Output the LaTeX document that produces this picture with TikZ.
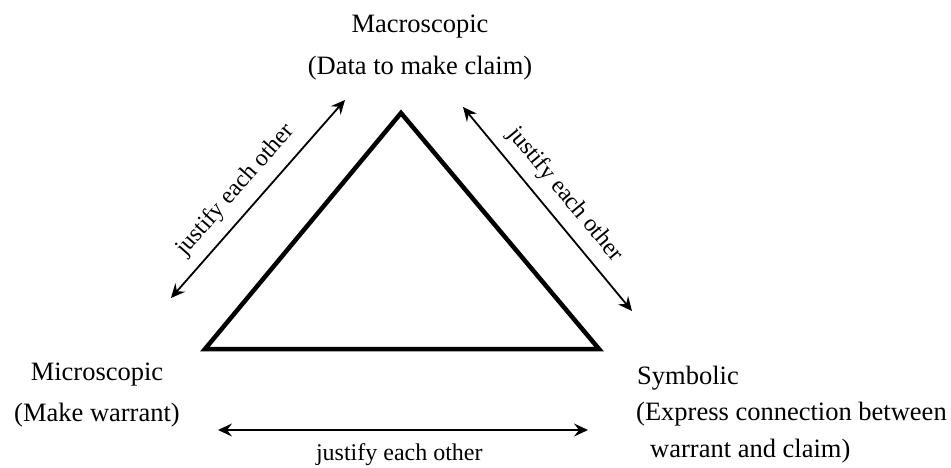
\documentclass[tikz,border=0pt]{standalone}
\usepackage{fontspec}
\setmainfont{Liberation Serif}
\usetikzlibrary{arrows.meta}
\begin{document}
\begin{tikzpicture}[x=1pt,y=-1pt,
  lbl/.style={inner sep=0pt, anchor=base, font=\fontsize{26.5}{30}\selectfont},
  lblw/.style={inner sep=0pt, anchor=base west, font=\fontsize{26.5}{30}\selectfont},
  jlbl/.style={inner sep=0pt, font=\fontsize{24}{28}\selectfont},
  tri/.style={line width=4.5pt, line join=miter},
  dbl/.style={line width=1.8pt, {Stealth[length=14pt,width=13pt,inset=5pt]}-{Stealth[length=14pt,width=13pt,inset=5pt]}}
]
\useasboundingbox[fill=white] (0,0) rectangle (951,468);
% triangle
\coordinate (A) at (401,113);
\coordinate (L) at (205,349);
\coordinate (R) at (599,349);
\draw[tri] (L) -- (A) -- (R) -- cycle;
% labels
\node[lbl] (macro1) at (420,33) {Macroscopic};
\node[lbl] (macro2) at (420,75) {(Data to make claim)};
\node[lbl] (micro1) at (97,380) {Microscopic};
\node[lbl] (micro2) at (97,421) {(Make warrant)};
\node[lblw] (sym1) at (637,384) {Symbolic};
\node[lblw] (sym2) at (636,420) {(Express connection between};
\node[lblw] (sym3) at (650,457) {warrant and claim)};
% arrows
\coordinate (la) at (171,298);
\coordinate (lb) at (345,100);
\coordinate (ra) at (463,107);
\coordinate (rb) at (632,311);
\coordinate (ba) at (218,430);
\coordinate (bb) at (588,430);
\draw[dbl] (la) -- node[jlbl, sloped, above=10.7pt, pos=0.47] (ljust) {justify each other} (lb);
\draw[dbl] (ra) -- node[jlbl, sloped, above=10.7pt, pos=0.5] (rjust) {justify each other} (rb);
\draw[dbl] (ba) -- node[jlbl, below=12.6pt, pos=0.49] (bjust) {justify each other} (bb);
\end{tikzpicture}
\end{document}
